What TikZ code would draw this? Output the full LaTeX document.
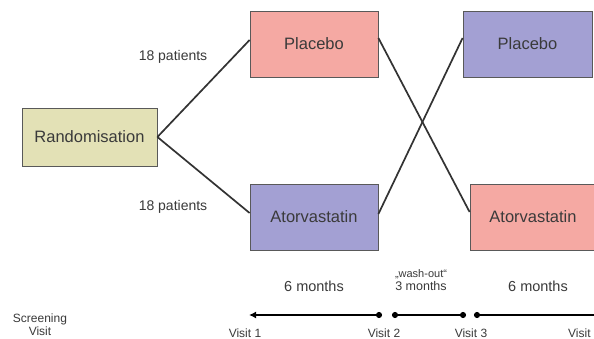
\documentclass[tikz,border=0pt]{standalone}
\usepackage{fontspec}
\setmainfont{Liberation Sans}
\usetikzlibrary{arrows.meta}
\definecolor{beige}{HTML}{E3E1B6}
\definecolor{pinkbox}{HTML}{F5A9A3}
\definecolor{purplebox}{HTML}{A3A0D3}
\definecolor{txt}{HTML}{3A3A3A}
\begin{document}
\begin{tikzpicture}[x=1pt,y=-1pt,
  box/.style={draw=gray!70!black, line width=0.8pt, minimum height=66pt, inner sep=0pt, text=txt, font=\fontsize{16.5}{18}\selectfont},
  link/.style={draw=black!80, line width=1.7pt},
  lbl/.style={text=txt, font=\fontsize{14}{16}\selectfont, inner sep=0pt},
  small/.style={text=txt, font=\fontsize{12}{13}\selectfont, inner sep=0pt, align=center},
  tl/.style={draw=black, line width=1.8pt}
]
\useasboundingbox (0,0) rectangle (594,339);
\fill[white] (0,0) rectangle (594,339);
\node[box, fill=beige, minimum width=135pt, minimum height=58pt] (rand) at (89.5,137) {Randomisation};
\node[box, fill=pinkbox, minimum width=128pt] (p1) at (314,44) {Placebo};
\node[box, fill=purplebox, minimum width=128pt] (a1) at (314,217) {Atorvastatin};
\node[box, fill=purplebox, minimum width=129pt] (p2) at (527.5,44) {Placebo};
\node[box, fill=pinkbox, minimum width=126pt] (a2) at (533,217) {Atorvastatin};

\draw[link] (rand.east) -- ([yshift=4pt]p1.west);
\draw[link] (rand.east) -- ([yshift=4pt]a1.west);
\draw[link] ([yshift=6pt]p1.east) -- ([yshift=5pt]a2.west);
\draw[link] ([yshift=3pt]a1.east) -- ([yshift=6pt]p2.west);

\node[lbl] (n1) at (173,57) {18 patients};
\node[lbl] (n2) at (173,207) {18 patients};

\node[lbl, font=\fontsize{14.5}{16}\selectfont] (m1) at (314,286) {6 months};
\node[small, font=\fontsize{11}{12}\selectfont] (w) at (421,280) {„wash-out“\\[1pt]\fontsize{12.5}{13}\selectfont 3 months};
\node[lbl, font=\fontsize{14.5}{16}\selectfont] (m3) at (538,286) {6 months};

\coordinate (v1) at (249,315);
\coordinate (v2a) at (382,315);
\coordinate (v2b) at (392,315);
\coordinate (v3a) at (466,315);
\coordinate (v3b) at (474,315);
\coordinate (vend) at (600,315);
\draw[tl, {Latex[length=7pt,width=7pt]}-{Circle[length=6pt]}] (v1) -- (v2a);
\draw[tl, {Circle[length=6pt]}-{Circle[length=6pt]}] (v2b) -- (v3a);
\draw[tl, {Circle[length=6pt]}-] (v3b) -- (vend);

\node[small] (sv) at (40,325) {Screening\\Visit};
\node[small] (t1) at (245,333) {Visit 1};
\node[small] (t2) at (384,333) {Visit 2};
\node[small] (t3) at (471,333) {Visit 3};
\node[small, anchor=west] (t4) at (568,333) {Visit};
\end{tikzpicture}
\end{document}
